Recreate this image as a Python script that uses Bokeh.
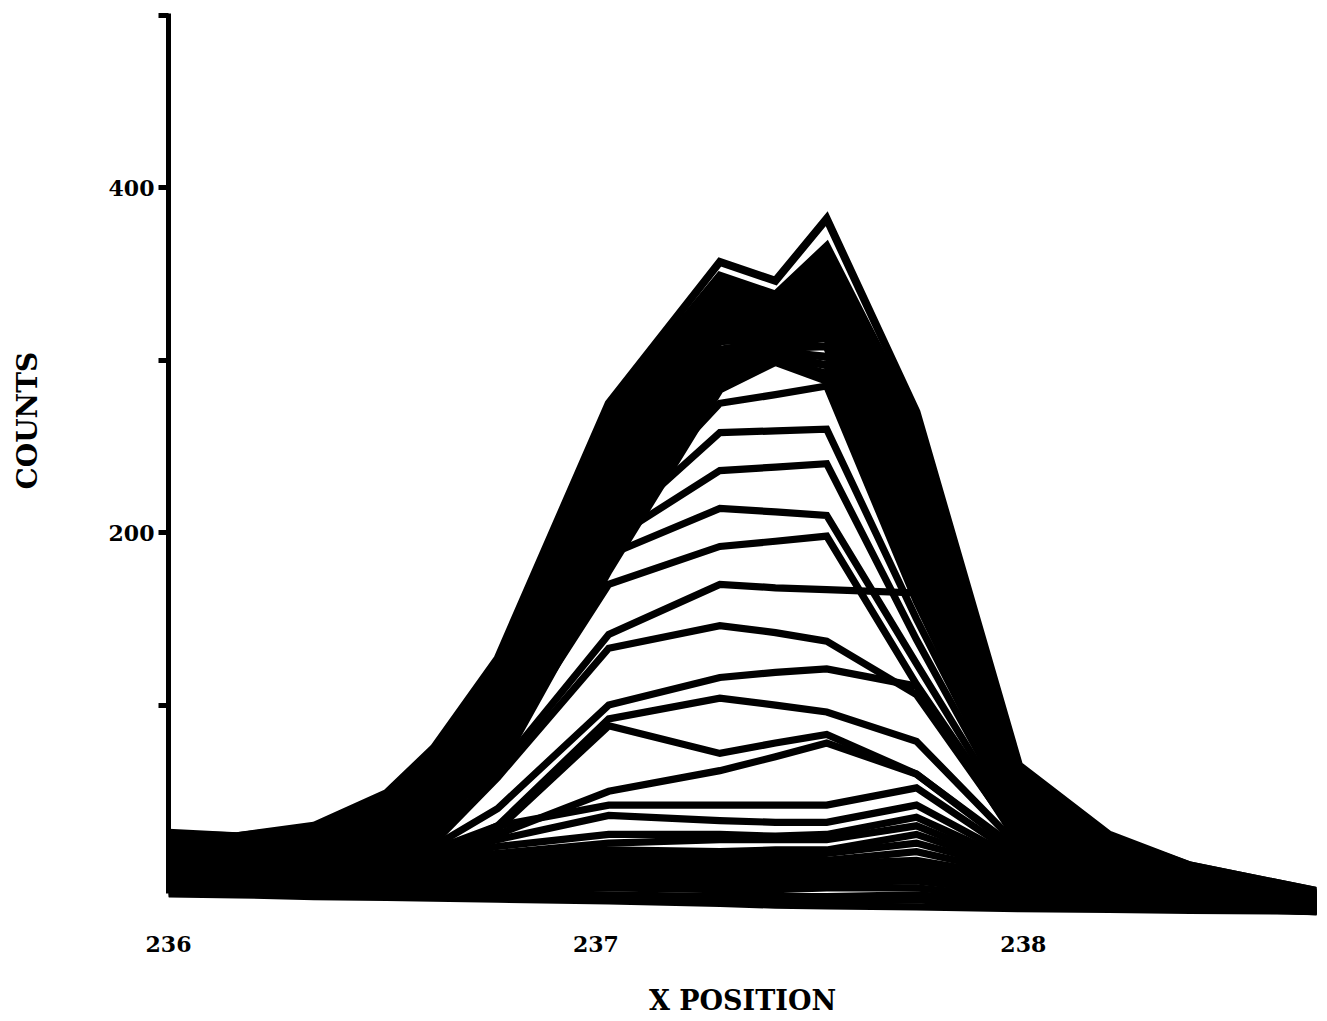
from bokeh.plotting import figure
from bokeh.models import FixedTicker, Range1d, LinearAxis
from bokeh.embed import file_html
from bokeh.resources import INLINE

# x positions of the scan samples
X_POS = [236.00, 236.16, 236.34, 236.51, 236.62, 236.77, 237.03, 237.29,
         237.42, 237.54, 237.75, 237.99, 238.20, 238.39, 238.69]

# high profiles (dense band)
A01 = [26, 24, 30, 49, 75, 127, 275, 357, 346, 382, 270, 65, 25, 7, -8]
A02 = [25, 24, 29, 47, 73, 124, 271, 349, 338, 366, 264, 63, 24, 7, -8]
A03 = [24, 23, 28, 46, 71, 121, 268, 346, 336, 361, 258, 60, 23, 6, -9]
A04 = [23, 22, 27, 44, 68, 117, 263, 343, 334, 357, 252, 58, 22, 6, -9]
A05 = [22, 21, 26, 42, 66, 114, 258, 340, 332, 353, 246, 56, 21, 5, -10]
A06 = [22, 21, 25, 41, 64, 111, 254, 337, 330, 349, 240, 54, 20, 5, -10]
A07 = [21, 20, 24, 39, 62, 108, 250, 334, 328, 345, 234, 52, 19, 4, -10]
A08 = [20, 19, 23, 38, 60, 104, 245, 331, 325, 341, 228, 50, 18, 4, -11]
A09 = [19, 18, 22, 36, 58, 101, 240, 327, 322, 337, 222, 49, 17, 3, -11]
A10 = [18, 17, 21, 35, 56, 98, 235, 323, 320, 333, 216, 47, 16, 3, -11]
A11 = [17, 16, 20, 33, 54, 94, 230, 319, 317, 329, 210, 46, 15, 2, -12]
A12 = [16, 15, 19, 32, 52, 90, 225, 315, 315, 325, 205, 44, 14, 2, -12]
A13 = [16, 15, 18, 30, 50, 86, 220, 311, 313, 321, 199, 43, 13, 1, -12]
A14 = [15, 14, 17, 29, 48, 82, 214, 306, 311, 317, 194, 41, 12, 1, -13]
A15 = [14, 13, 16, 27, 46, 78, 208, 302, 309, 313, 188, 39, 11, 0, -13]
A16 = [13, 12, 15, 26, 44, 75, 202, 298, 307, 308, 183, 37, 10, 0, -13]
A17 = [12, 11, 14, 24, 42, 71, 196, 294, 305, 302, 177, 35, 9, -1, -14]
A18 = [11, 10, 13, 23, 40, 68, 190, 290, 303, 297, 172, 33, 8, -1, -14]
A19 = [10, 9, 12, 21, 37, 65, 184, 286, 301, 292, 168, 32, 7, -2, -14]
A20 = [10, 9, 12, 20, 35, 62, 178, 283, 299, 288, 166, 31, 7, -2, -14]

# intermediate profiles (flat topped)
B01 = [18, 17, 20, 28, 40, 88, 206, 275, 280, 285, 160, 36, 12, 0, -12]
B02 = [16, 15, 18, 25, 36, 85, 200, 258, 259, 260, 150, 33, 11, -1, -13]
B03 = [15, 14, 16, 22, 32, 80, 195, 236, 238, 240, 138, 30, 10, -2, -13]
B04 = [14, 13, 15, 20, 28, 75, 187, 214, 212, 210, 124, 27, 9, -3, -14]
B05 = [13, 12, 14, 18, 25, 70, 170, 192, 195, 198, 112, 25, 8, -4, -14]
B06 = [12, 11, 13, 16, 22, 62, 141, 170, 168, 167, 165, 24, 7, -5, -15]
B07 = [11, 10, 12, 15, 20, 58, 133, 146, 142, 137, 106, 22, 6, -5, -15]
B08 = [10, 9, 11, 14, 18, 40, 100, 116, 119, 121, 111, 20, 5, -6, -15]
B09 = [9, 9, 10, 13, 16, 30, 92, 104, 100, 96, 79, 18, 4, -6, -16]
B10 = [9, 8, 10, 12, 15, 28, 88, 72, 78, 83, 60, 16, 4, -7, -16]
B11 = [8, 8, 9, 11, 14, 25, 50, 62, 70, 78, 60, 15, 3, -7, -16]
B12 = [8, 7, 9, 10, 13, 30, 42, 42, 42, 42, 52, 12, 2, -8, -17]
B13 = [7, 7, 8, 10, 12, 22, 36, 33, 32, 32, 42, 10, 1, -8, -17]
B14 = [7, 6, 8, 9, 11, 18, 25, 25, 24, 25, 35, 8, 0, -9, -17]

# low profiles
C01 = [5, 5, 6, 7, 9, 14, 20, 22, 22, 22, 30, 6, -1, -9, -17]
C02 = [4, 4, 5, 6, 8, 12, 16, 15, 16, 16, 25, 5, -2, -10, -18]
C03 = [3, 3, 4, 5, 6, 10, 13, 12, 13, 14, 20, 4, -3, -11, -18]
C04 = [2, 2, 3, 4, 5, 8, 10, 9, 10, 10, 15, 2, -4, -12, -19]
C05 = [1, 1, 2, 3, 4, 6, 7, 7, 7, 8, 10, 0, -5, -12, -19]
C06 = [0, 0, 1, 1, 2, 4, 5, 4, 5, 5, 7, -2, -6, -13, -19]
C07 = [-2, -2, -1, 0, 0, 2, 2, 2, 2, 3, 4, -4, -8, -14, -19]
C08 = [-4, -4, -3, -3, -2, 0, 0, -1, 0, 0, 1, -6, -10, -15, -20]
C09 = [-6, -6, -5, -5, -4, -3, -3, -4, -3, -3, -2, -9, -12, -16, -20]
C10 = [-8, -8, -7, -7, -7, -6, -6, -7, -7, -6, -6, -12, -15, -17, -20]
C11 = [-9, -9, -9, -9, -9, -9, -10, -11, -11, -11, -10, -14, -16, -18, -19]
C12 = [-9, -9, -10, -10, -10, -11, -12, -13, -14, -14, -13, -16, -17, -18, -19]
C13 = [-9.5, -10, -11, -11.5, -12, -12.5, -13.5, -15, -16, -16.5, -17, -18, -18.5, -19, -19.5]

BAND = [A01, A02, A03, A04, A05, A06, A07, A08, A09, A10,
        A11, A12, A13, A14, A15, A16, A17, A18, A19, A20]
OTHERS = [B01, B02, B03, B04, B05, B06, B07, B08, B09, B10, B11, B12, B13, B14,
          C01, C02, C03, C04, C05, C06, C07, C08, C09, C10, C11, C12, C13]

Y_TICKS = [100, 200, 300, 400, 500]
Y_LABELS = {100: "", 200: "200", 300: "", 400: "400", 500: ""}
X_TICKS = [236, 237, 238]

FONT = "DejaVu Serif"

p = figure(frame_width=1148, frame_height=902, output_backend="svg",
           toolbar_location=None,
           x_range=Range1d(236.0, 238.686), y_range=Range1d(-22, 501),
           min_border_left=168, min_border_right=2, min_border_top=13,
           min_border_bottom=103)
p.outline_line_color = None
p.grid.visible = False
p.background_fill_color = "white"
p.border_fill_color = "white"

p.multi_line(xs=[X_POS] * len(OTHERS), ys=OTHERS, line_color="black",
             line_width=7.2, line_join="miter")
p.multi_line(xs=[X_POS] * len(BAND), ys=BAND, line_color="black",
             line_width=8, line_join="miter")

ya = p.yaxis[0]
ya.ticker = FixedTicker(ticks=Y_TICKS)
ya.major_label_overrides = Y_LABELS
ya.bounds = (-9, 501)
ya.axis_line_width = 5
ya.axis_line_color = "black"
ya.major_tick_line_width = 5
ya.major_tick_out = 10
ya.major_tick_in = 0
ya.minor_tick_line_color = None
ya.major_label_text_font = FONT
ya.major_label_text_font_style = "bold"
ya.major_label_text_font_size = "22px"
ya.major_label_text_color = "black"
ya.major_label_standoff = 4

# outer axis only carrying the COUNTS title (leading no-break spaces lift it
# above the frame centre, where it sits in the original)
ta = LinearAxis(ticker=FixedTicker(ticks=[]),
                axis_line_color=None, major_tick_line_color=None,
                minor_tick_line_color=None, major_label_text_font_size="0px",
                axis_label="\u00a0" * 9 + "COUNTS", axis_label_text_font=FONT,
                axis_label_text_font_style="bold",
                axis_label_text_font_size="28px",
                axis_label_text_color="black", axis_label_standoff=62)
p.add_layout(ta, "left")

xa = p.xaxis[0]
xa.ticker = FixedTicker(ticks=X_TICKS)
xa.axis_line_color = None
xa.major_tick_line_color = None
xa.minor_tick_line_color = None
xa.major_label_text_font = FONT
xa.major_label_text_font_style = "bold"
xa.major_label_text_font_size = "22px"
xa.major_label_text_color = "black"
xa.major_label_standoff = 14
xa.axis_label = "X POSITION"
xa.axis_label_text_font = FONT
xa.axis_label_text_font_style = "bold"
xa.axis_label_text_font_size = "27px"
xa.axis_label_text_color = "black"
xa.axis_label_standoff = 30

open("out.html", "w").write(file_html(p, INLINE))
